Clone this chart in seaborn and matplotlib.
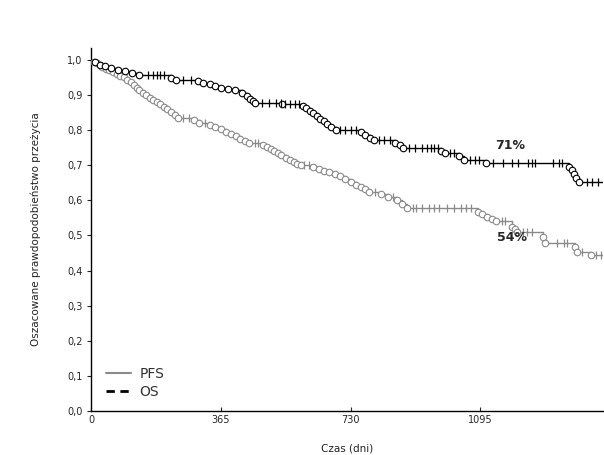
import numpy as np
import pandas as pd
import matplotlib
matplotlib.use("Agg")
import matplotlib.pyplot as plt
from matplotlib.lines import Line2D
import seaborn as sns

# ---- data ----
os_event_days = [10, 25, 40, 55, 75, 95, 115, 135, 225, 238, 300, 315, 335, 350, 365, 385, 405,
                 425, 440, 448, 455, 462, 536, 595, 605, 615, 625, 635, 645, 655, 665, 675, 688,
                 760, 772, 785, 795, 855, 868, 878, 985, 995, 1035, 1048, 1110,
                 1345, 1352, 1358, 1364, 1372]
os_event_surv = [0.993, 0.987, 0.982, 0.977, 0.972, 0.968, 0.963, 0.956, 0.949, 0.943, 0.940,
                 0.935, 0.931, 0.926, 0.921, 0.917, 0.913, 0.906, 0.897, 0.890, 0.882, 0.877,
                 0.875, 0.868, 0.862, 0.855, 0.848, 0.840, 0.833, 0.826, 0.818, 0.810, 0.800,
                 0.795, 0.786, 0.778, 0.772, 0.764, 0.757, 0.749, 0.742, 0.735, 0.725, 0.715,
                 0.707, 0.695, 0.687, 0.676, 0.664, 0.652]
os_censor_days = [160, 175, 185, 195, 205, 260, 280, 480, 500, 520, 535, 545, 560, 575, 585,
                  700, 715, 730, 745, 810, 825, 840, 895, 910, 930, 945, 955, 965, 975,
                  1010, 1020, 1065, 1080, 1090, 1130, 1160, 1185, 1200, 1230, 1240, 1250,
                  1300, 1315, 1325, 1395, 1410, 1425]

pfs_event_days = [8, 16, 24, 32, 42, 52, 62, 72, 82, 92, 102, 112, 120, 128, 136, 145, 155, 165,
                  175, 185, 195, 205, 215, 225, 235, 245, 290, 305, 335, 350, 365, 380, 395, 408,
                  420, 432, 445, 485, 495, 505, 515, 525, 535, 548, 560, 570, 580, 590, 625, 640,
                  655, 670, 685, 700, 715, 730, 745, 758, 770, 783, 815, 835, 860, 875, 890,
                  1088, 1100, 1115, 1128, 1140, 1185, 1192, 1199, 1270, 1276, 1360, 1366, 1405]
pfs_event_surv = [0.995, 0.990, 0.985, 0.980, 0.975, 0.970, 0.965, 0.960, 0.955, 0.950, 0.944,
                  0.936, 0.928, 0.920, 0.913, 0.906, 0.899, 0.892, 0.886, 0.880, 0.874, 0.867,
                  0.860, 0.852, 0.844, 0.836, 0.828, 0.820, 0.814, 0.808, 0.802, 0.796, 0.789,
                  0.782, 0.776, 0.770, 0.764, 0.758, 0.752, 0.746, 0.740, 0.734, 0.728, 0.722,
                  0.716, 0.710, 0.705, 0.700, 0.695, 0.690, 0.685, 0.680, 0.675, 0.668, 0.660,
                  0.652, 0.645, 0.638, 0.631, 0.624, 0.617, 0.610, 0.600, 0.590, 0.578,
                  0.567, 0.560, 0.553, 0.546, 0.540, 0.525, 0.518, 0.510, 0.495, 0.479,
                  0.466, 0.453, 0.444]
pfs_censor_days = [260, 275, 320, 460, 470, 600, 612, 800, 850, 905, 915, 930, 950, 965, 980,
                   1000, 1020, 1040, 1055, 1070, 1155, 1165, 1215, 1225, 1240, 1310, 1330,
                   1340, 1380, 1420, 1435]

end_day = 1440
annot_labels = ["71%", "54%"]
annot_pos = [(1180, 0.755), (1185, 0.493)]
legend_labels = ["PFS", "OS"]
x_ticks = [0, 365, 730, 1095]
y_ticks = [0.0, 0.1, 0.2, 0.3, 0.4, 0.5, 0.6, 0.7, 0.8, 0.9, 1.0]
y_ticklabels = ["0,0", "0,1", "0,2", "0,3", "0,4", "0,5", "0,6", "0,7", "0,8", "0,9", "1,0"]


def step_curve(days, surv):
    t = [0] + list(days) + [end_day]
    s = [1.0] + list(surv) + [surv[-1]]
    return pd.DataFrame({"t": t, "s": s})


def censor_points(days, ev_days, ev_surv):
    t = np.array(days)
    idx = np.searchsorted(np.array(ev_days), t, side="right") - 1
    s = np.where(idx >= 0, np.array(ev_surv)[np.clip(idx, 0, None)], 1.0)
    return pd.DataFrame({"t": t, "s": s})


sns.set_style("ticks")
plt.rcParams["font.family"] = ["DejaVu Sans"]

fig = plt.figure(figsize=(6.04, 4.55), dpi=100)
ax = fig.add_axes([91 / 604, 1 - 411 / 455, 512 / 604, 363 / 455])

curves = [
    ("PFS", pfs_event_days, pfs_event_surv, pfs_censor_days, "#8a8a8a"),
    ("OS", os_event_days, os_event_surv, os_censor_days, "#000000"),
]
for name, ed, es, cd, col in curves:
    df = step_curve(ed, es)
    sns.lineplot(data=df, x="t", y="s", drawstyle="steps-post", estimator=None,
                 color=col, lw=1.0, ax=ax, legend=False)
    ev = pd.DataFrame({"t": ed, "s": es})
    sns.scatterplot(data=ev, x="t", y="s", marker="o", s=22, facecolor="white",
                    edgecolor=col, linewidth=0.8, ax=ax, zorder=3, legend=False)
    cp = censor_points(cd, ed, es)
    sns.scatterplot(data=cp, x="t", y="s", marker="|", s=28, color=col,
                    linewidth=0.9, ax=ax, zorder=3, legend=False)

for lab, (xx, yy) in zip(annot_labels, annot_pos):
    ax.text(xx, yy, lab, fontsize=9, fontweight="bold", ha="center", va="center")

ax.set_xlim(0, end_day)
ax.set_ylim(0, 1.034)
ax.set_xticks(x_ticks)
ax.set_xticklabels([str(v) for v in x_ticks])
ax.set_yticks(y_ticks)
ax.set_yticklabels(y_ticklabels)
ax.tick_params(axis="both", labelsize=7, length=3, width=0.8, pad=3)
ax.tick_params(axis="x", direction="in")
ax.set_xlabel("Czas (dni)", fontsize=7.5, color="#222222", labelpad=13)
ax.set_ylabel("Oszacowane prawdopodobieństwo przeżycia", fontsize=7.5,
              color="#222222", labelpad=19)
sns.despine(ax=ax)
for sp in ["left", "bottom"]:
    ax.spines[sp].set_linewidth(1.0)
    ax.spines[sp].set_color("black")

handles = [Line2D([0], [0], color="#8a8a8a", lw=1.5),
           Line2D([0], [0], color="black", lw=2, ls=(0, (3, 2)))]
ax.legend(handles, legend_labels, loc="lower left", bbox_to_anchor=(0.005, 0.0),
          frameon=False, fontsize=10, handlelength=1.8, handletextpad=0.6,
          labelspacing=0.25, labelcolor="#333333")

fig.savefig("out.png", dpi=100)
